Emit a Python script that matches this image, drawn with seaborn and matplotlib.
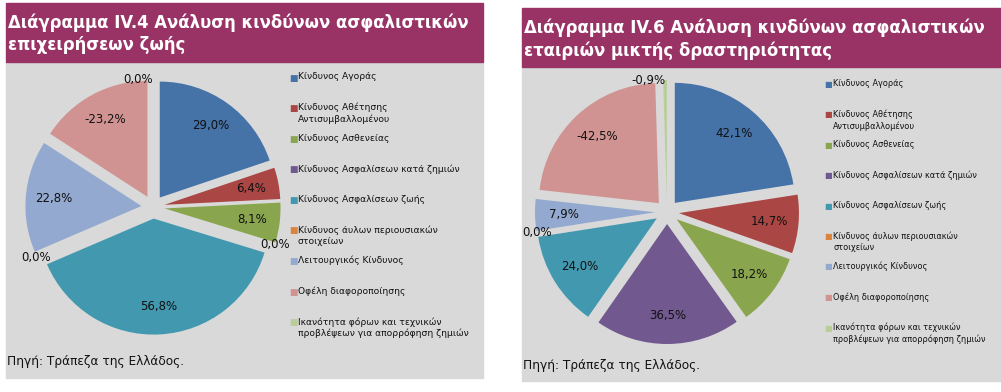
# Two pie charts: risk analysis of Greek insurance undertakings (life / mixed activity).

import seaborn as sns
import matplotlib.pyplot as plt
import numpy as np

sns.set_theme(style="white")
plt.rcParams["font.family"] = ["DejaVu Sans"]

# Risk categories (legend order, same for both charts).
categories = [
    "Κίνδυνος Αγοράς",
    "Κίνδυνος Αθέτησης\nΑντισυμβαλλομένου",
    "Κίνδυνος Ασθενείας",
    "Κίνδυνος Ασφαλίσεων κατά ζημιών",
    "Κίνδυνος Ασφαλίσεων ζωής",
    "Κίνδυνος άυλων περιουσιακών\nστοιχείων",
    "Λειτουργικός Κίνδυνος",
    "Οφέλη διαφοροποίησης",
    "Ικανότητα φόρων και τεχνικών\nπροβλέψεων για απορρόφηση ζημιών",
]

# Shares (%) for each chart, signed as printed.
life_values = [29.0, 6.4, 8.1, 0.0, 56.8, 0.0, 22.8, -23.2, 0.0]
mixed_values = [42.1, 14.7, 18.2, 36.5, 24.0, 0.0, 7.9, -42.5, -0.9]

titles = [
    "Διάγραμμα IV.4 Ανάλυση κινδύνων ασφαλιστικών\nεπιχειρήσεων ζωής",
    "Διάγραμμα IV.6 Ανάλυση κινδύνων ασφαλιστικών\nεταιριών μικτής δραστηριότητας",
]
source = "Πηγή: Τράπεζα της Ελλάδος."

colors = sns.color_palette([
    "#4572A7", "#AA4643", "#89A54E", "#71588F", "#4198AF",
    "#DB843D", "#93A9CF", "#D19392", "#B9CD96",
])

W, H = 1001, 392
fig = plt.figure(figsize=(W / 100, H / 100), dpi=100)
fig.patch.set_facecolor("white")


def fx(x):
    return x / W


def fy(y):
    return 1 - y / H


def panel(x0, x1, y0, yb, y1, title, values, pie_c, radius_px, leg_x, leg_y0, leg_step, leg_size):
    # Background and title band.
    fig.patches.append(plt.Rectangle((fx(x0), fy(y1)), fx(x1 - x0), (y1 - yb) / H,
                                     transform=fig.transFigure, color="#D9D9D9", zorder=-2))
    fig.patches.append(plt.Rectangle((fx(x0), fy(yb)), fx(x1 - x0), (yb - y0) / H,
                                     transform=fig.transFigure, color="#993366", zorder=-2))
    fig.text(fx(x0 + 2), fy(y0 + 31), title, color="white", fontsize=11.9,
             fontweight="bold", va="center", ha="left", linespacing=1.32)
    fig.text(fx(x0 + 1), fy(y1 - 16), source, color="#111111", fontsize=8.7,
             va="center", ha="left")

    # Pie (absolute sizes, signed labels).
    cx, cy = pie_c
    size = 300
    ax = fig.add_axes([fx(cx - size / 2), fy(cy + size / 2), size / W, size / H])
    ax.set_zorder(1)
    ax.patch.set_alpha(0)
    sizes = np.abs(values)
    wedges, _ = ax.pie(sizes, colors=colors, startangle=90, counterclock=False,
                       explode=[0.1] * len(sizes), radius=1.0,
                       wedgeprops={"linewidth": 0, "edgecolor": "none"})
    lim = size / 2 / radius_px
    ax.set_xlim(-lim, lim)
    ax.set_ylim(-lim, lim)
    ax.set_aspect("equal")
    ax.axis("off")
    total = sizes.sum()
    for w, v, s in zip(wedges, values, sizes):
        ang = np.deg2rad((w.theta1 + w.theta2) / 2)
        ox, oy = w.center
        lab = f"{v:.1f}".replace(".", ",") + "%"
        if s / total < 0.02:
            px, py = ox + 1.0 * np.cos(ang), oy + 1.0 * np.sin(ang)
            ha = "right" if abs(np.cos(ang)) < 0.1 else "center"
        else:
            px, py = ox + 0.76 * np.cos(ang), oy + 0.76 * np.sin(ang)
            ha = "center"
        ax.text(px, py, lab, ha=ha, va="center", fontsize=8.5, color="#111111")

    # Legend.
    for i, (name, c) in enumerate(zip(categories, colors)):
        y = leg_y0 + i * leg_step
        fig.text(fx(leg_x), fy(y), "■", color=c, fontsize=leg_size, va="center", ha="left")
        fig.text(fx(leg_x + 9), fy(y - leg_size * 0.85), name, color="#111111",
                 fontsize=leg_size, va="top", ha="left", linespacing=1.3)


panel(6, 483, 3, 62, 378, titles[0], life_values, (153, 207), 116, 289, 78, 30.6, 6.6)
panel(522, 1001, 8, 67, 381, titles[1], mixed_values, (667, 212), 120, 824, 84, 30.5, 5.9)

plt.savefig("out.png", dpi=100)
